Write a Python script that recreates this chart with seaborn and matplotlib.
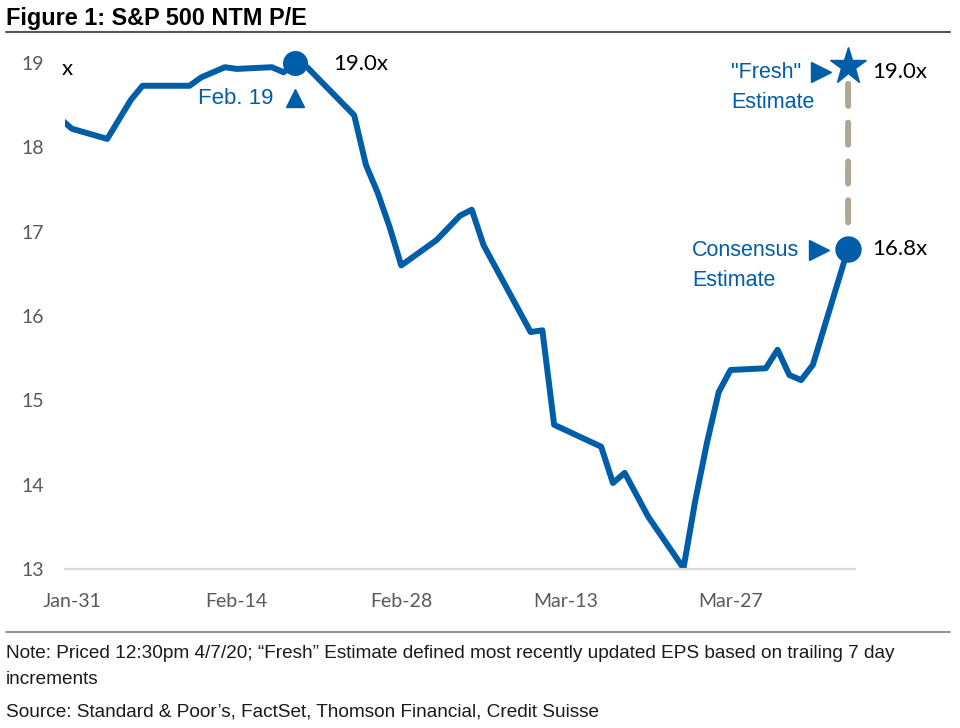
import matplotlib
matplotlib.use("Agg")
import matplotlib.pyplot as plt
import matplotlib.dates as mdates
import matplotlib.transforms as mtransforms
from matplotlib.lines import Line2D
import pandas as pd
import seaborn as sns

# S&P 500 NTM P/E
dates = ["2020-01-30", "2020-01-31", "2020-02-03", "2020-02-05", "2020-02-06",
         "2020-02-10", "2020-02-11", "2020-02-12", "2020-02-13", "2020-02-14",
         "2020-02-17", "2020-02-18", "2020-02-19", "2020-02-20", "2020-02-24",
         "2020-02-25", "2020-02-26", "2020-02-27", "2020-02-28", "2020-03-02",
         "2020-03-04", "2020-03-05", "2020-03-06", "2020-03-10", "2020-03-11",
         "2020-03-12", "2020-03-16", "2020-03-17", "2020-03-18", "2020-03-20",
         "2020-03-23", "2020-03-24", "2020-03-25", "2020-03-26", "2020-03-27",
         "2020-03-30", "2020-03-31", "2020-04-01", "2020-04-02", "2020-04-03",
         "2020-04-06"]
pe = [18.34, 18.22, 18.10, 18.56, 18.73,
      18.73, 18.83, 18.89, 18.95, 18.93,
      18.95, 18.89, 19.00, 18.95, 18.38,
      17.79, 17.46, 17.06, 16.60, 16.90,
      17.19, 17.26, 16.84, 15.81, 15.83,
      14.71, 14.45, 14.02, 14.14, 13.62,
      13.01, 13.81, 14.50, 15.10, 15.36,
      15.38, 15.60, 15.30, 15.24, 15.42,
      16.80]

peak_date = "2020-02-19"
peak_pe = 19.0
last_date = "2020-04-06"
consensus_pe = 16.8
fresh_pe = 19.0

tick_dates = ["2020-01-31", "2020-02-14", "2020-02-28", "2020-03-13", "2020-03-27"]
y_ticks = [13, 14, 15, 16, 17, 18, 19]

note1 = "Note: Priced 12:30pm 4/7/20; \u201cFresh\u201d Estimate defined most recently updated EPS based on trailing 7 day"
note2 = "increments"
source = "Source: Standard & Poor\u2019s, FactSet, Thomson Financial, Credit Suisse"

BLUE = "#005DA8"
GREY_TXT = "#595959"

sns.set_style("white")
plt.rcParams["font.family"] = ["Liberation Sans", "DejaVu Sans"]

df = pd.DataFrame({"date": pd.to_datetime(dates), "pe": pe})
peak_x = pd.Timestamp(peak_date)
last_x = pd.Timestamp(last_date)

W, H = 960, 728
fig = plt.figure(figsize=(9.6, 7.28), dpi=100)
ax = fig.add_axes([64.6 / W, 1 - 569 / H, (855 - 64.6) / W, (569 - 63) / H])

sns.lineplot(data=df, x="date", y="pe", color=BLUE, linewidth=4.3, ax=ax,
             solid_joinstyle="round")

ax.set_xlim(pd.Timestamp("2020-01-31") - pd.Timedelta(hours=15),
            last_x + pd.Timedelta(hours=14))
ax.set_ylim(13, 19)
ax.set_xticks(pd.to_datetime(tick_dates))
ax.xaxis.set_major_formatter(mdates.DateFormatter("%b-%d"))
ax.set_yticks(y_ticks)
ax.set_xlabel("")
ax.set_ylabel("")
ax.tick_params(axis="both", length=0, labelsize=14, labelcolor=GREY_TXT)
ax.tick_params(axis="y", pad=15)
ax.tick_params(axis="x", pad=17)
for lab in ax.get_xticklabels() + ax.get_yticklabels():
    lab.set_family("Lato")
for s in ["top", "right", "left"]:
    ax.spines[s].set_visible(False)
ax.spines["bottom"].set_color("#D9D9D9")
ax.spines["bottom"].set_linewidth(1.6)

# dashed link between consensus and "fresh" estimate
ax.annotate("", xy=(last_x, consensus_pe), xytext=(last_x, fresh_pe),
            arrowprops=dict(arrowstyle="-", color="#B0A596", lw=4.3,
                            linestyle=(0, (3.7, 2.8)), shrinkA=15, shrinkB=16),
            annotation_clip=False)

# markers
ax.plot([peak_x], [peak_pe], marker="o", ms=17, color=BLUE, clip_on=False)
ax.plot([last_x], [consensus_pe], marker="o", ms=18, color=BLUE, clip_on=False)


def shifted(dx, dy):
    return mtransforms.offset_copy(ax.transData, fig=fig, x=dx, y=dy, units="dots")


ax.plot([last_x], [fresh_pe], marker="*", ms=28, color=BLUE, clip_on=False,
        transform=shifted(0, -3))
ax.plot([peak_x], [peak_pe], marker="^", ms=13.5, color=BLUE, clip_on=False,
        transform=shifted(0, -35))
ax.plot([last_x], [fresh_pe], marker=">", ms=14, color=BLUE, clip_on=False,
        transform=shifted(-27, -9))
ax.plot([last_x], [consensus_pe], marker=">", ms=14, color=BLUE, clip_on=False,
        transform=shifted(-29, -1))


def label(txt, x, y, dx, dy, ha="left", color=BLUE, family="Liberation Sans", size=16):
    ax.annotate(txt, xy=(x, y), xytext=(dx, dy), textcoords="offset pixels",
                ha=ha, va="center", color=color, fontsize=size, family=family,
                annotation_clip=False)


label("19.0x", peak_x, peak_pe, 38, -1, color="black", family="Lato")
label("Feb. 19", peak_x, peak_pe, -22, -35, ha="right")
label("\"Fresh\"", last_x, fresh_pe, -117, -9, size=15.5)
label("Estimate", last_x, fresh_pe, -117, -39, size=15.5)
label("19.0x", last_x, fresh_pe, 24, -9, color="black", family="Lato")
label("Consensus", last_x, consensus_pe, -156, -2, size=15.5)
label("Estimate", last_x, consensus_pe, -156, -32, size=15.5)
label("16.8x", last_x, consensus_pe, 24, 0, color="black", family="Lato")

# unit marker next to the top tick
fig.text(62 / W, 1 - 69 / H, "x", fontsize=16, family="Lato", color="black",
         ha="left", va="center")

# title block
fig.text(6 / W, 1 - 25 / H, "Figure 1: S&P 500 NTM P/E", fontsize=16.9,
         fontweight="bold", ha="left", va="baseline", color="black")
fig.add_artist(Line2D([6 / W, 950 / W], [1 - 32 / H, 1 - 32 / H],
                      color="#555555", lw=1.5))

# footnotes
fig.add_artist(Line2D([6 / W, 950 / W], [1 - 632 / H, 1 - 632 / H],
                      color="#7F7F7F", lw=1.2))
fig.text(6 / W, 1 - 653 / H, note1, fontsize=13.7, ha="left", va="center", color="#1A1A1A")
fig.text(6 / W, 1 - 679 / H, note2, fontsize=13.7, ha="left", va="center", color="#1A1A1A")
fig.text(6 / W, 1 - 712 / H, source, fontsize=13.7, ha="left", va="center", color="#1A1A1A")

fig.savefig("out.png", dpi=100)
